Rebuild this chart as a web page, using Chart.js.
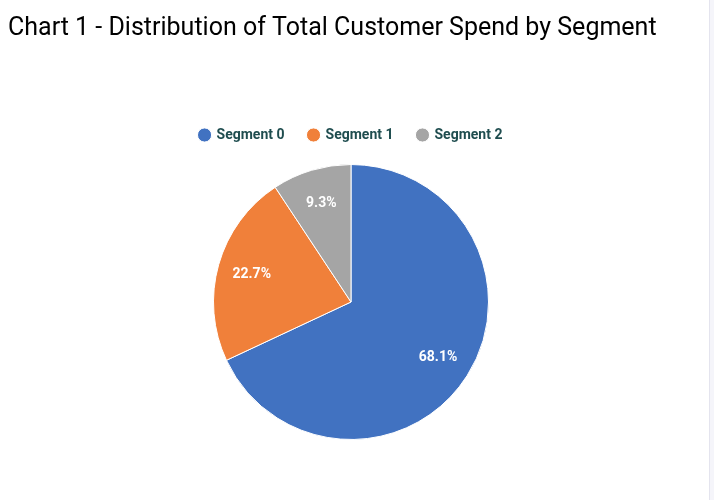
<!DOCTYPE html>
<html>
<head>
<meta charset="utf-8">
<script src="https://cdn.jsdelivr.net/npm/chart.js@4.4.1/dist/chart.umd.min.js"></script>
<style>
  html, body { margin: 0; padding: 0; background: #fff; }
  #wrap { position: relative; width: 714px; height: 500px; }
  #edge { position: absolute; left: 709px; top: 0; width: 4px; height: 500px;
          background: #f5f5fa; border-left: 1px solid #e4e4ee; }
</style>
</head>
<body>
<div id="wrap">
  <canvas id="chart" width="714" height="500"></canvas>
  <div id="edge"></div>
</div>
<script>
const segments = ['Segment 0', 'Segment 1', 'Segment 2'];
const spendShare = [68.1, 22.7, 9.3];
const sliceColors = ['#4172c1', '#f0803a', '#a5a5a5'];

// writes the percentage inside each slice
const sliceLabels = {
  id: 'sliceLabels',
  afterDatasetsDraw(chart) {
    const ctx = chart.ctx;
    const meta = chart.getDatasetMeta(0);
    ctx.save();
    ctx.fillStyle = '#fff';
    ctx.font = 'bold 14px Roboto';
    ctx.textAlign = 'center';
    ctx.textBaseline = 'middle';
    meta.data.forEach((arc, i) => {
      const p = arc.getProps(['x', 'y', 'startAngle', 'endAngle', 'outerRadius'], true);
      const mid = (p.startAngle + p.endAngle) / 2;
      const r = p.outerRadius * 0.75;
      ctx.fillText(spendShare[i].toFixed(1) + '%', p.x + Math.cos(mid) * r, p.y + Math.sin(mid) * r);
    });
    ctx.restore();
  }
};

// extra room between the legend and the pie
const legendGap = {
  id: 'legendGap',
  beforeInit(chart) {
    const fit = chart.legend.fit;
    chart.legend.fit = function () {
      fit.call(this);
      this.height += 12;
    };
  }
};

new Chart(document.getElementById('chart'), {
  type: 'pie',
  data: {
    labels: segments,
    datasets: [{
      data: spendShare,
      backgroundColor: sliceColors,
      borderColor: '#fff',
      borderWidth: 1
    }]
  },
  options: {
    responsive: false,
    animation: false,
    layout: { padding: { left: 8, right: 20, top: 0, bottom: 60 } },
    plugins: {
      title: {
        display: true,
        text: 'Chart 1 - Distribution of Total Customer Spend by Segment',
        align: 'start',
        color: '#000',
        font: { family: 'Roboto', size: 25, weight: 'normal' },
        padding: { top: 14, bottom: 60 }
      },
      legend: {
        position: 'top',
        labels: {
          usePointStyle: true,
          pointStyle: 'circle',
          boxWidth: 10,
          boxHeight: 10,
          padding: 24,
          color: '#1f4d4f',
          font: { family: 'Roboto', size: 14, weight: 'bold' }
        }
      },
      tooltip: { enabled: false }
    }
  },
  plugins: [sliceLabels, legendGap]
});
</script>
</body>
</html>
